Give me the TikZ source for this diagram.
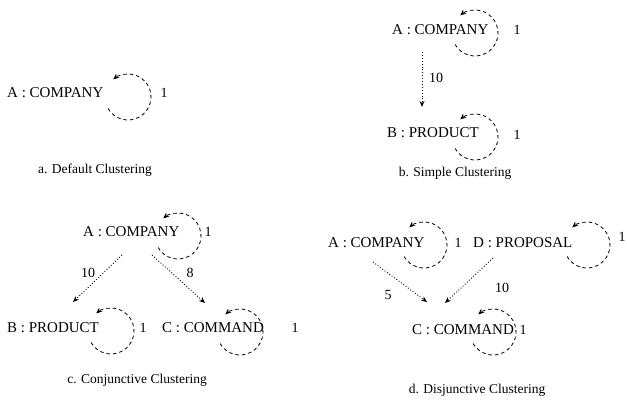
\documentclass[tikz,border=0pt]{standalone}
\usepackage{fontspec}
\setmainfont{Liberation Serif}
\usetikzlibrary{arrows.meta,positioning,calc}
\tikzset{
  obj/.style={anchor=west,inner sep=2pt,font=\fontsize{15}{17}\selectfont},
  cnt/.style={inner sep=1pt,font=\fontsize{14}{16}\selectfont},
  caption/.style={font=\fontsize{13.5}{16}\selectfont},
  selfloop/.style={line width=0.8pt,dash pattern=on 3.5pt off 3pt,-{Stealth[length=6pt,width=5pt]}},
  link/.style={line width=0.9pt,dotted,-{Stealth[length=6pt,width=5pt]}}
}

\begin{document}
\begin{tikzpicture}[x=1pt,y=-1pt]
\useasboundingbox (0,0) rectangle (627,405);
% a. default
\node[obj] (A1) at (5,93) {A : COMPANY};
\coordinate (L1) at (128,97);
\draw[selfloop] (L1) ++(-210:23) arc (-210:-490:23);
\node[cnt] (n1) at (164,93) {1};
\node[caption] (capa) at (95,170) {a. Default Clustering};
% b. simple
\node[obj] (A2) at (390,30) {A : COMPANY};
\node[obj] (B2) at (385,133) {B : PRODUCT};
\coordinate (L2) at (475,33);
\coordinate (L3) at (475,137);
\draw[selfloop] (L2) ++(-210:23) arc (-210:-490:23);
\draw[selfloop] (L3) ++(-210:23) arc (-210:-490:23);
\node[cnt] (n2) at (517,30) {1};
\node[cnt] (n3) at (517,135) {1};
\draw[link] ($(A2.west)+(32,22)$) -- ($(B2.west)+(37,-26)$);
\node[cnt] (w1) at (436,78) {10};
\node[caption] (capb) at (455,173) {b. Simple Clustering};
% c. conjunctive
\node[obj] (A3) at (81,232) {A : COMPANY};
\node[obj] (B3) at (5,328) {B : PRODUCT};
\node[obj] (C3) at (160,328) {C : COMMAND};
\coordinate (L4) at (178,236);
\coordinate (L5) at (111,331);
\coordinate (L6) at (240,332);
\draw[selfloop] (L4) ++(-210:23) arc (-210:-490:23);
\draw[selfloop] (L5) ++(-210:23) arc (-210:-490:23);
\draw[selfloop] (L6) ++(-210:23) arc (-210:-490:23);
\node[cnt] (n4) at (208,232) {1};
\node[cnt] (n5) at (143,328) {1};
\node[cnt] (n6) at (295,328) {1};
\draw[link] ($(A3.west)+(41,23)$) -- ($(B3.west)+(68,-26)$);
\draw[link] ($(A3.west)+(71,23)$) -- ($(C3.west)+(45,-25)$);
\node[cnt] (w2) at (88,273) {10};
\node[cnt] (w3) at (190,273) {8};
\node[caption] (capc) at (137,380) {c. Conjunctive Clustering};
% d. disjunctive
\node[obj] (A4) at (326,243) {A : COMPANY};
\node[obj] (D4) at (471,243) {D : PROPOSAL};
\node[obj] (C4) at (410,330) {C : COMMAND};
\coordinate (L7) at (424,245);
\coordinate (L8) at (587,245);
\coordinate (L9) at (493,332);
\draw[selfloop] (L7) ++(-210:23) arc (-210:-490:23);
\draw[selfloop] (L8) ++(-210:23) arc (-210:-490:23);
\draw[selfloop] (L9) ++(-210:23) arc (-210:-490:23);
\node[cnt] (n7) at (458,243) {1};
\node[cnt] (n8) at (622,237) {1};
\node[cnt] (n9) at (523,330) {1};
\draw[link] ($(A4.west)+(47,19)$) -- ($(C4.west)+(17,-28)$);
\draw[link] ($(D4.west)+(22,15)$) -- ($(C4.west)+(35,-27)$);
\node[cnt] (w4) at (388,295) {5};
\node[cnt] (w5) at (502,288) {10};
\node[caption] (capd) at (477,390) {d. Disjunctive Clustering};
\end{tikzpicture}
\end{document}
